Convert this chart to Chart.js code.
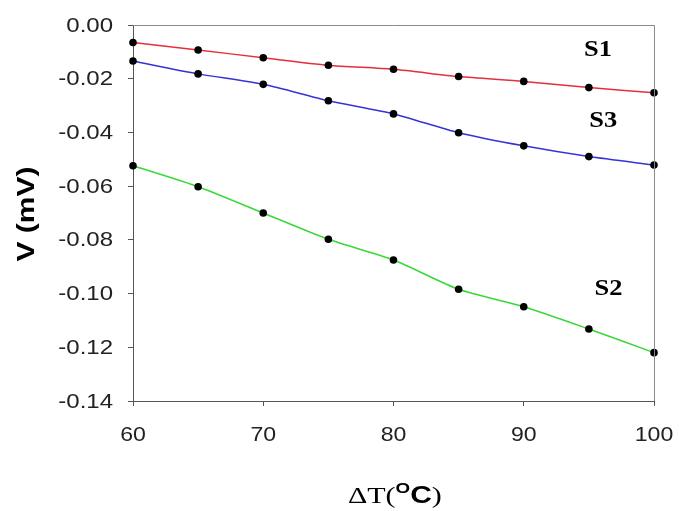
<!DOCTYPE html>
<html>
<head>
<meta charset="utf-8">
<script src="https://cdn.jsdelivr.net/npm/chart.js@4"></script>
<style>
  html, body { margin: 0; padding: 0; background: #fff; }
  #wrap { width: 679px; height: 511px; position: relative; }
</style>
</head>
<body>
<div id="wrap"><canvas id="chart"></canvas></div>
<script>
// temperature difference (°C)
const deltaT = [60, 65, 70, 75, 80, 85, 90, 95, 100];
// voltage (mV)
const s1 = [-0.0065, -0.0093, -0.0122, -0.0150, -0.0165, -0.0192, -0.0210, -0.0233, -0.0252];
const s3 = [-0.0134, -0.0182, -0.0221, -0.0282, -0.0331, -0.0401, -0.0450, -0.0490, -0.0521];
const s2 = [-0.0524, -0.0602, -0.0700, -0.0798, -0.0875, -0.0984, -0.1049, -0.1132, -0.1220];
const xTicks = [60, 70, 80, 90, 100];
const yTicks = [0, -0.02, -0.04, -0.06, -0.08, -0.10, -0.12, -0.14];
const seriesNames = ["S1", "S3", "S2"];
// label anchors in data units
const labelX = [95.7, 96.1, 96.5];
const labelY = [-0.0093, -0.0357, -0.0983];

const axisColor = "#555";
const sans = "'Liberation Sans', Arial, sans-serif";
const serif = "'Liberation Serif', 'Times New Roman', serif";

function pts(ys) {
  return deltaT.map((x, i) => ({ x: x, y: ys[i] }));
}

function ds(label, ys, color) {
  return {
    label: label,
    data: pts(ys),
    borderColor: color,
    borderWidth: 1.5,
    pointRadius: 3.8,
    pointBackgroundColor: "#000",
    pointBorderColor: "#000",
    pointBorderWidth: 0,
    tension: 0.25,
    clip: false,
  };
}

// the source picture is slightly stretched sideways, so text is drawn with a horizontal scale
function wideText(ctx, txt, x, y, sx, align) {
  ctx.save();
  ctx.translate(x, y);
  ctx.scale(sx, 1);
  ctx.textAlign = align;
  ctx.fillText(txt, 0, 0);
  ctx.restore();
}

const extras = {
  id: "extras",
  afterDraw(chart) {
    const { ctx, chartArea: a, scales } = chart;
    ctx.save();
    // top and right frame
    ctx.strokeStyle = "#8a8a8a";
    ctx.lineWidth = 1;
    ctx.beginPath();
    ctx.moveTo(a.left, a.top + 0.5);
    ctx.lineTo(a.right + 0.5, a.top + 0.5);
    ctx.lineTo(a.right + 0.5, a.bottom);
    ctx.stroke();

    ctx.fillStyle = "#222";
    ctx.textBaseline = "middle";
    // tick labels
    ctx.font = "20px " + sans;
    yTicks.forEach(v => wideText(ctx, v.toFixed(2), 113, scales.y.getPixelForValue(v) + 1, 1.2, "right"));
    ctx.font = "21px " + sans;
    xTicks.forEach(v => wideText(ctx, String(v), scales.x.getPixelForValue(v), 435, 1.1, "center"));

    // series labels
    ctx.fillStyle = "#000";
    ctx.font = "bold 23px " + serif;
    seriesNames.forEach((n, i) => {
      wideText(ctx, n, scales.x.getPixelForValue(labelX[i]), scales.y.getPixelForValue(labelY[i]), 1.15, "center");
    });

    // y title
    ctx.save();
    ctx.translate(27, 214);
    ctx.rotate(-Math.PI / 2);
    ctx.font = "bold 24px " + sans;
    wideText(ctx, "V (mV)", 0, 0, 1.25, "center");
    ctx.restore();

    // x title: ΔT(°C) with superscript O
    ctx.save();
    ctx.translate(348, 503);
    ctx.scale(1.25, 1);
    ctx.textAlign = "left";
    ctx.textBaseline = "alphabetic";
    let x = 0;
    ctx.font = "24px " + serif;
    ctx.fillText("ΔT(", x, 0);
    x += ctx.measureText("ΔT(").width;
    ctx.font = "bold 15px " + sans;
    ctx.fillText("O", x, -10);
    x += ctx.measureText("O").width;
    ctx.font = "bold 24px " + sans;
    ctx.fillText("C", x, 0);
    x += ctx.measureText("C").width;
    ctx.font = "24px " + serif;
    ctx.fillText(")", x, 0);
    ctx.restore();
    ctx.restore();
  }
};

new Chart(document.getElementById("chart"), {
  type: "line",
  data: {
    datasets: [
      ds("S1", s1, "#e4303c"),
      ds("S3", s3, "#3434d6"),
      ds("S2", s2, "#38d838"),
    ]
  },
  options: {
    responsive: true,
    maintainAspectRatio: false,
    animation: false,
    layout: { padding: { left: 0, top: 25, right: 25, bottom: 0 } },
    plugins: {
      legend: { display: false },
      tooltip: { enabled: false },
    },
    scales: {
      x: {
        type: "linear",
        min: 60,
        max: 100,
        ticks: { stepSize: 10, display: false },
        grid: { drawOnChartArea: false, drawTicks: true, tickLength: 5, color: axisColor },
        border: { display: true, color: axisColor, width: 1 },
        afterFit(scale) { scale.height = 110; },
      },
      y: {
        min: -0.14,
        max: 0,
        ticks: { stepSize: 0.02, display: false },
        grid: { drawOnChartArea: false, drawTicks: true, tickLength: 5, color: axisColor },
        border: { display: true, color: axisColor, width: 1 },
        afterFit(scale) { scale.width = 133; },
      }
    }
  },
  plugins: [extras]
});
</script>
</body>
</html>
